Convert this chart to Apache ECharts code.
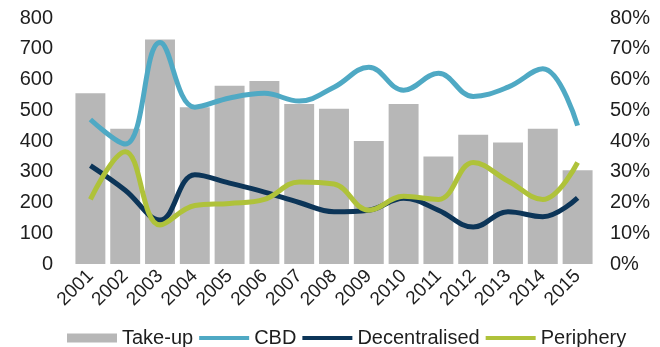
<!DOCTYPE html>
<html>
<head>
<meta charset="utf-8">
<script src="https://cdn.jsdelivr.net/npm/echarts@6/dist/echarts.min.js"></script>
<style>
  html, body { margin: 0; padding: 0; background: #fff; }
  #chart { width: 660px; height: 347px; }
</style>
</head>
<body>
<div id="chart"></div>
<script>
// Office take-up (sq m, thousands) and share of take-up by submarket
const years = ['2001','2002','2003','2004','2005','2006','2007','2008','2009','2010','2011','2012','2013','2014','2015'];
const takeUp = [555, 440, 730, 510, 580, 595, 520, 505, 400, 520, 350, 420, 395, 440, 305];
const cbd = [47, 39, 72, 51, 54, 55.5, 53, 57.5, 64, 56.5, 62, 54.5, 57.5, 63.5, 45];
const decentralised = [32, 24, 14.3, 29, 26.3, 23.4, 20, 17, 17.5, 21.4, 17.5, 12, 17, 15.4, 21.5];
const periphery = [21, 36.5, 12.7, 19, 19.7, 21, 26.7, 26, 17.5, 22, 21, 33, 27, 21, 33];
const leftTicks = [0, 100, 200, 300, 400, 500, 600, 700, 800];
const rightTicks = [0, 10, 20, 30, 40, 50, 60, 70, 80];

const textColor = '#1e1e1e';
const font = 'Liberation Sans, Arial, sans-serif';
const lineIcon = 'path://M0,0h50v4h-50z';

const chart = echarts.init(document.getElementById('chart'), null, { renderer: 'canvas' });
chart.setOption({
  animation: false,
  textStyle: { fontFamily: font },
  grid: { left: 73, right: 65, top: 18, bottom: 83 },
  legend: {
    left: 62,
    top: 323,
    itemWidth: 50,
    itemHeight: 9,
    itemGap: 6,
    textStyle: { fontSize: 20, color: textColor, fontFamily: font },
    data: [
      { name: 'Take-up', icon: 'rect' },
      { name: 'CBD', icon: lineIcon },
      { name: 'Decentralised', icon: lineIcon },
      { name: 'Periphery', icon: lineIcon }
    ]
  },
  xAxis: {
    type: 'category',
    data: years,
    axisLine: { show: false },
    axisTick: { show: false },
    axisLabel: {
      rotate: 45,
      interval: 0,
      margin: 9,
      fontSize: 19,
      color: textColor,
      fontFamily: font
    }
  },
  yAxis: [
    {
      type: 'value',
      min: leftTicks[0],
      max: leftTicks[leftTicks.length - 1],
      interval: leftTicks[1] - leftTicks[0],
      splitLine: { show: false },
      axisLine: { show: false },
      axisTick: { show: false },
      axisLabel: { fontSize: 20, color: textColor, margin: 20, fontFamily: font }
    },
    {
      type: 'value',
      min: rightTicks[0],
      max: rightTicks[rightTicks.length - 1],
      interval: rightTicks[1] - rightTicks[0],
      splitLine: { show: false },
      axisLine: { show: false },
      axisTick: { show: false },
      axisLabel: { fontSize: 20, color: textColor, margin: 15, formatter: '{value}%', fontFamily: font }
    }
  ],
  series: [
    {
      name: 'Take-up',
      type: 'bar',
      data: takeUp,
      barCategoryGap: '14%',
      itemStyle: { color: '#b7b7b7' }
    },
    {
      name: 'CBD',
      type: 'line',
      yAxisIndex: 1,
      data: cbd,
      smooth: 0.4,
      symbol: 'none',
      itemStyle: { color: '#4fa9c4' },
      lineStyle: { width: 5, color: '#4fa9c4' }
    },
    {
      name: 'Decentralised',
      type: 'line',
      yAxisIndex: 1,
      data: decentralised,
      smooth: 0.4,
      symbol: 'none',
      itemStyle: { color: '#0c3558' },
      lineStyle: { width: 5, color: '#0c3558' }
    },
    {
      name: 'Periphery',
      type: 'line',
      yAxisIndex: 1,
      data: periphery,
      smooth: 0.4,
      symbol: 'none',
      itemStyle: { color: '#afc23a' },
      lineStyle: { width: 5, color: '#afc23a' }
    }
  ]
});
</script>
</body>
</html>
